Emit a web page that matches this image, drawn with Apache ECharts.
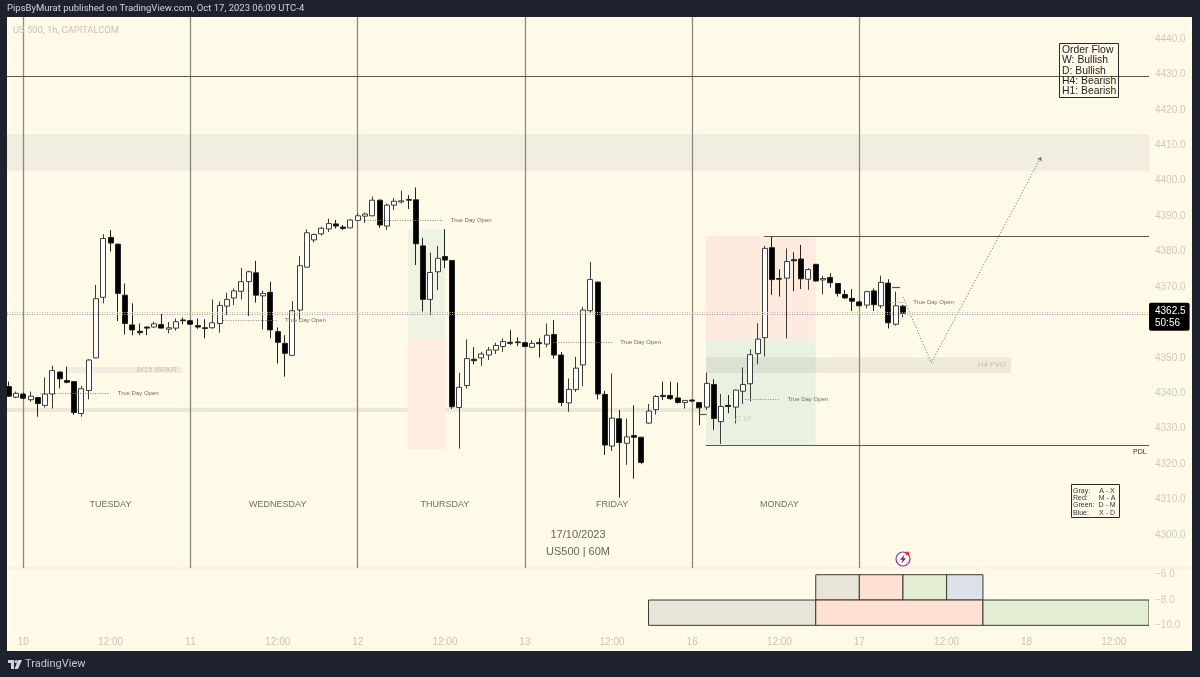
<!DOCTYPE html>
<html>
<head>
<meta charset="utf-8">
<style>
  html, body { margin: 0; padding: 0; background: #1e222d; }
  #chart { width: 1200px; height: 677px; }
</style>
<script src="https://cdn.jsdelivr.net/npm/echarts@6/dist/echarts.min.js"></script>
</head>
<body>
<div id="chart"></div>
<script>
// bars are [open, close, low, high], bar 0 is the 00:00 open of the 10th
const lastWeekBars = [
  [4341.9,4339.2,4339.0,4343.3],[4338.9,4340.0,4338.6,4340.5]
];
const tuesdayBars = [
  [4339.8,4338.6,4338.3,4340.2],[4338.2,4339.2,4337.6,4340.5],[4338.8,4337.1,4333.4,4339.0],[4336.6,4339.8,4336.0,4344.5],
  [4339.8,4346.4,4335.7,4347.8],[4346.0,4344.1,4341.4,4346.2],[4343.6,4343.1,4342.8,4347.5],[4343.3,4334.6,4333.9,4343.5],
  [4334.3,4341.3,4333.4,4342.1],[4340.8,4349.4,4338.3,4349.6],[4350.0,4366.7,4349.9,4370.6],[4367.1,4383.7,4365.4,4384.9],
  [4384.0,4382.4,4380.0,4386.1],[4382.1,4368.2,4360.4,4382.2],[4367.7,4359.7,4356.6,4371.0],[4359.3,4357.9,4356.4,4365.4],
  [4357.5,4357.1,4356.4,4359.7],[4358.7,4358.4,4356.4,4358.8],[4358.7,4359.6,4358.5,4360.2],[4359.4,4358.4,4358.3,4362.4],
  [4358.1,4358.5,4356.9,4360.1],[4358.4,4360.2,4357.7,4361.1],[4360.7,4360.5,4359.5,4361.4]
];
const wednesdayBars = [
  [4360.5,4359.5,4359.3,4360.7],[4359.1,4358.7,4358.2,4361.1],[4358.5,4358.3,4355.5,4360.9],[4358.5,4359.9,4358.2,4366.5],
  [4359.7,4364.8,4357.1,4365.9],[4364.6,4366.5,4362.1,4368.4],[4366.9,4368.9,4364.9,4369.6],[4368.8,4371.5,4366.5,4375.4],
  [4371.5,4374.3,4361.8,4374.6],[4374.0,4367.7,4365.6,4377.4],[4367.5,4368.2,4358.0,4369.0],[4368.5,4357.9,4355.5,4371.5],
  [4357.4,4354.4,4348.4,4358.6],[4354.1,4351.3,4344.7,4356.4],[4350.7,4363.3,4350.5,4366.0],[4363.5,4376.0,4360.7,4378.7],
  [4375.6,4385.3,4375.5,4386.3],[4383.3,4384.8,4382.6,4385.1],[4385.0,4386.6,4384.5,4387.0],[4386.4,4387.9,4385.5,4389.3],
  [4387.8,4387.2,4386.5,4388.9],[4386.9,4386.5,4386.1,4387.5],[4386.7,4388.9,4386.6,4389.1]
];
const thursdayBars = [
  [4388.8,4390.1,4388.7,4390.8],[4390.0,4390.6,4388.1,4391.0],[4390.1,4394.5,4390.0,4395.5],[4394.5,4387.5,4386.7,4394.7],
  [4387.2,4393.1,4386.1,4393.6],[4393.1,4394.2,4391.7,4395.1],[4394.0,4394.3,4393.6,4397.2],[4394.7,4394.5,4392.0,4395.9],
  [4394.6,4382.2,4376.2,4398.1],[4381.6,4366.5,4363.1,4383.9],[4366.5,4374.1,4362.0,4379.7],[4374.3,4378.1,4369.1,4381.6],
  [4378.6,4377.6,4375.3,4386.3],[4377.5,4336.2,4335.6,4377.6],[4336.0,4341.7,4324.4,4345.8],[4342.2,4349.8,4341.3,4355.2],
  [4349.6,4349.2,4348.2,4353.0],[4350.0,4351.1,4347.7,4351.7],[4350.8,4352.2,4349.4,4353.1],[4352.2,4353.5,4351.1,4354.3],
  [4353.2,4354.6,4351.7,4355.5],[4354.4,4354.1,4353.6,4357.8],[4354.5,4354.3,4353.3,4355.8]
];
const fridayBars = [
  [4354.3,4353.2,4353.1,4354.5],[4353.0,4354.1,4352.7,4355.0],[4354.3,4354.0,4350.1,4355.5],[4353.9,4356.4,4353.0,4359.7],
  [4356.6,4350.8,4349.8,4360.7],[4350.8,4337.4,4336.4,4351.7],[4337.3,4341.1,4334.8,4344.2],[4341.1,4347.1,4340.4,4350.3],
  [4348.0,4363.5,4342.0,4364.4],[4363.3,4372.1,4362.7,4377.1],[4371.4,4339.8,4338.3,4371.5],[4339.7,4325.4,4322.6,4340.7],
  [4325.1,4333.0,4323.7,4345.6],[4332.8,4326.1,4310.6,4335.3],[4325.9,4327.7,4319.8,4332.9],[4328.1,4327.6,4315.9,4336.6],
  [4327.6,4320.5,4320.0,4327.7],[4331.6,4335.0,4331.5,4337.0],[4335.4,4339.1,4334.0,4339.5],[4339.4,4339.1,4338.1,4343.3],
  [4339.4,4338.5,4338.1,4343.3],[4338.7,4337.4,4337.1,4343.0],[4337.4,4338.0,4335.7,4338.1]
];
const mondayBars = [
  [4338.1,4337.8,4337.6,4338.2],[4337.4,4335.9,4331.0,4337.5],[4336.1,4342.8,4335.3,4345.8],[4342.5,4332.9,4329.7,4344.0],
  [4332.0,4336.3,4325.7,4339.8],[4336.6,4336.3,4334.4,4339.5],[4336.1,4340.9,4331.5,4341.0],[4340.6,4342.5,4337.0,4347.3],
  [4342.7,4350.9,4337.7,4352.4],[4351.2,4355.3,4348.2,4359.8],[4355.7,4380.9,4350.4,4381.6],[4381.1,4372.1,4367.8,4384.2],
  [4372.4,4372.2,4367.3,4375.0],[4372.5,4377.2,4355.5,4380.9],[4377.7,4377.4,4368.8,4379.8],[4377.9,4372.3,4369.4,4381.9],
  [4372.2,4374.9,4369.2,4375.3],[4376.4,4371.7,4371.5,4376.5],[4372.0,4372.4,4367.9,4373.2],[4372.7,4371.2,4369.8,4373.9],
  [4371.0,4368.2,4367.3,4371.1],[4367.9,4366.9,4366.7,4369.2],[4366.8,4366.0,4363.2,4369.4]
];
const todayBars = [
  [4365.8,4364.7,4364.6,4366.2],[4364.9,4368.7,4364.0,4368.9],[4368.9,4365.0,4363.2,4369.6],[4364.7,4371.3,4364.0,4373.2],
  [4371.1,4359.9,4358.3,4372.2],[4359.5,4364.7,4359.1,4368.7],[4364.6,4362.6,4361.5,4364.9]
];
const firstBar = -2;

const barMin = -2.24;
const barMax = 154.84;

const tickBars = [0, 12, 23, 35, 46, 58, 69, 81, 92, 104, 115, 127, 138, 150];
const tickNames = ['10', '12:00', '11', '12:00', '12', '12:00', '13', '12:00', '16', '12:00', '17', '12:00', '18', '12:00'];
const priceTicks = [4300, 4310, 4320, 4330, 4340, 4350, 4360, 4370, 4380, 4390, 4400, 4410, 4420, 4430, 4440];
const rangeTicks = [-6, -8, -10];

const sessionBars = [0, 23, 46, 69, 92, 115];
const dayNames = [[12, 'TUESDAY'], [35, 'WEDNESDAY'], [58, 'THURSDAY'], [81, 'FRIDAY'], [104, 'MONDAY']];
const dayNamePrice = 4308.5;

// [bar from, bar to, price]
const levels = [
  [barMin, barMax, 4429.4],
  [101.9, barMax, 4384.3],
  [93.9, barMax, 4325.4],
  [93, 94, 4334.1],
  [119.5, 120.6, 4369.9]
];
const trueDayOpen = [
  [2.3, 11.9, 4339.9],
  [27.5, 34.9, 4360.7],
  [47, 57.7, 4388.9],
  [72.9, 81, 4354.5],
  [99.3, 104, 4338.3],
  [119.2, 121.3, 4365.8]
];
const lastPrice = 4362.5;

// [bar from, bar to, price top, price bottom, colour, label]
const zones = [
  [barMin, barMax, 4413.2, 4402.7, '#f1eee0', ''],
  [6, 21.8, 4347.4, 4345.7, '#f1eee1', 'M15 BRKR'],
  [barMin, 99.9, 4335.9, 4334.7, '#ebe7d9', ''],
  [52.9, 58, 4386.4, 4355.6, '#eff3e2', ''],
  [52.9, 58, 4355.6, 4324.3, '#fdecdf', ''],
  [93.9, 109, 4384.4, 4354.8, '#fdebdf', ''],
  [93.9, 109, 4354.8, 4325.3, '#e9f1e0', ''],
  [93.9, 135.9, 4350.2, 4345.7, 'rgba(170,170,160,0.2)', 'H4 FVG']
];

const projection = [[121, 4367.2], [124.9, 4348.6], [140, 4406.7]];

// [bar from, bar to, top, bottom, colour]
const rangeBoxes = [
  [109, 115, -6, -8, '#e8e5d8'],
  [115, 121, -6, -8, '#fee1d2'],
  [121, 127, -6, -8, '#e3edd3'],
  [127, 132, -6, -8, '#dde1e8'],
  [86, 109, -8, -10, '#e8e5d8'],
  [109, 132, -8, -10, '#fee1d2'],
  [132, 154.84, -8, -10, '#e3edd3']
];

const allBars = [].concat(lastWeekBars, tuesdayBars, wednesdayBars, thursdayBars, fridayBars, mondayBars, todayBars);
const sans = '"Liberation Sans", Arial, sans-serif';
const ui = 'Roboto, "Liberation Sans", sans-serif';

const chart = echarts.init(document.getElementById('chart'));

const option = {
  backgroundColor: '#1e222d',
  animation: false,
  grid: [
    { left: 7, right: 51, top: 17, height: 551 },
    { left: 7, right: 51, top: 568, height: 60 }
  ],
  xAxis: [
    { type: 'value', gridIndex: 0, min: barMin, max: barMax, show: false, splitLine: { show: false } },
    {
      type: 'value', gridIndex: 1, min: barMin, max: barMax,
      axisLine: { show: false }, axisTick: { show: false }, splitLine: { show: false },
      axisLabel: {
        customValues: tickBars,
        margin: 9,
        fontFamily: sans,
        fontSize: 10,
        color: (v) => (v === 92 ? '#8f8e82' : '#c6c4b7'),
        formatter: (v) => tickNames[tickBars.indexOf(v)]
      }
    }
  ],
  yAxis: [
    {
      type: 'value', gridIndex: 0, position: 'right', min: 4290.7, max: 4446.2, scale: true,
      axisLine: { show: false }, axisTick: { show: false }, splitLine: { show: false },
      axisLabel: {
        customValues: priceTicks, margin: 6, fontFamily: sans, fontSize: 10, color: '#cdcbbe',
        formatter: (v) => v.toFixed(1)
      }
    },
    {
      type: 'value', gridIndex: 1, position: 'right', min: -10.21, max: -5.47, scale: true,
      axisLine: { show: false }, axisTick: { show: false }, splitLine: { show: false },
      axisLabel: {
        customValues: rangeTicks, margin: 6, fontFamily: sans, fontSize: 10, color: '#cdcbbe',
        formatter: (v) => '\u2212' + Math.abs(v).toFixed(1)
      }
    }
  ],
  series: [
    {
      name: 'zones',
      type: 'line',
      data: [],
      silent: true,
      markArea: {
        silent: true,
        data: zones.map((z) => [
          {
            coord: [z[0], z[2]],
            itemStyle: { color: z[4] },
            label: {
              show: !!z[5], formatter: z[5], position: 'insideRight', distance: 5,
              fontFamily: sans, fontSize: 8, fontStyle: 'italic', color: '#c2c0b2'
            }
          },
          { coord: [z[1], z[3]] }
        ])
      },
      markLine: {
        silent: true,
        z: 1,
        symbol: 'none',
        label: { show: false },
        lineStyle: { color: '#8a897d', width: 1.3, type: 'solid' },
        data: sessionBars.map((b) => ({ xAxis: b }))
      }
    },
    {
      name: 'US 500',
      type: 'candlestick',
      barWidth: 5.5,
      z: 3,
      itemStyle: {
        color: '#ffffff',
        color0: '#000000',
        borderColor: '#3c3c38',
        borderColor0: '#22221e',
        borderWidth: 1
      },
      data: allBars.map((b, i) => [firstBar + i].concat(b))
    },
    {
      name: 'levels',
      type: 'line',
      data: [],
      silent: true,
      markLine: {
        silent: true,
        symbol: 'none',
        label: { show: false },
        data: [].concat(
          levels.map((l) => [
            { coord: [l[0], l[2]], lineStyle: { color: '#5a5948', width: 1.2, type: 'solid' } },
            { coord: [l[1], l[2]] }
          ]),
          trueDayOpen.map((l) => [
            {
              coord: [l[0], l[2]],
              lineStyle: { color: '#8a897d', width: 1, type: [1, 1.5] },
              label: {
                show: true, formatter: 'True Day Open', position: 'end', distance: 8,
                fontFamily: sans, fontSize: 6, color: '#6e6d62'
              }
            },
            { coord: [l[1], l[2]] }
          ]),
          [
            [
              { coord: [projection[0][0], projection[0][1]], lineStyle: { color: '#66655a', width: 1, type: [1, 2] } },
              { coord: [projection[1][0], projection[1][1]] }
            ],
            [
              { coord: [projection[1][0], projection[1][1]], lineStyle: { color: '#66655a', width: 1, type: [1, 2] } },
              { coord: [projection[2][0], projection[2][1]], symbol: 'arrow', symbolSize: 4 }
            ],
            [
              { coord: [barMin, lastPrice + 0.35], lineStyle: { color: '#dcbf95', width: 1, type: [1, 1.5] } },
              { coord: [barMax, lastPrice + 0.35] }
            ],
            [
              {
                coord: [barMin, lastPrice - 0.05],
                lineStyle: { color: '#9a95d4', width: 1, type: [1, 1.5] },
                label: {
                  show: true, position: 'end', distance: 0, offset: [0, 3],
                  formatter: lastPrice.toFixed(1) + '\n50:56',
                  backgroundColor: '#000000', color: '#ffffff', borderRadius: 2,
                  padding: [2, 4, 2, 6], lineHeight: 12, fontFamily: sans, fontSize: 10
                }
              },
              { coord: [barMax, lastPrice - 0.05] }
            ]
          ]
        )
      }
    },
    {
      name: 'days',
      type: 'scatter',
      symbolSize: 0,
      silent: true,
      data: dayNames.map((d) => ({ value: [d[0], dayNamePrice], name: d[1] })),
      label: {
        show: true, position: 'inside', formatter: '{b}',
        fontFamily: sans, fontSize: 9, color: '#4a4a44'
      }
    },
    {
      name: 'ranges',
      type: 'custom',
      xAxisIndex: 1,
      yAxisIndex: 1,
      silent: true,
      clip: true,
      data: rangeBoxes,
      encode: { x: [0, 1], y: [2, 3] },
      renderItem: (params, api) => {
        const a = api.coord([api.value(0), api.value(2)]);
        const b = api.coord([api.value(1), api.value(3)]);
        return {
          type: 'rect',
          shape: { x: a[0], y: a[1], width: b[0] - a[0], height: b[1] - a[1] },
          style: { fill: rangeBoxes[params.dataIndex][4], stroke: '#3a3a32', lineWidth: 1 }
        };
      }
    }
  ],
  graphic: [
    { type: 'rect', z: 0, silent: true, shape: { x: 7, y: 17, width: 1185, height: 634 }, style: { fill: '#fffae8' } },
    { type: 'line', z: 1, silent: true, shape: { x1: 7, y1: 568, x2: 1192, y2: 568 }, style: { stroke: '#efecdc', lineWidth: 1 } },
    { type: 'text', z: 20, silent: true, x: 7, y: 9, style: { text: 'PipsByMurat published on TradingView.com, Oct 17, 2023 06:09 UTC-4', fill: '#d1d4dc', font: '9.5px ' + ui, textVerticalAlign: 'middle' } },
    { type: 'text', z: 20, silent: true, x: 13, y: 31, style: { text: 'US 500, 1h, CAPITALCOM', fill: '#c6c4b6', font: '9.4px ' + ui, textVerticalAlign: 'middle' } },
    { type: 'text', z: 20, silent: true, x: 578, y: 535, style: { text: '17/10/2023', fill: '#66665c', font: '11px ' + sans, textAlign: 'center', textVerticalAlign: 'middle' } },
    { type: 'text', z: 20, silent: true, x: 578, y: 552, style: { text: 'US500 | 60M', fill: '#66665c', font: '11px ' + sans, textAlign: 'center', textVerticalAlign: 'middle' } },
    { type: 'text', z: 20, silent: true, x: 1133, y: 452, style: { text: 'PDL', fill: '#333333', font: '7px ' + sans, textVerticalAlign: 'middle' } },
    { type: 'text', z: 20, silent: true, x: 735, y: 419, style: { text: 'D VI', fill: '#cfcdbf', font: 'italic 8px ' + sans, textVerticalAlign: 'middle' } },
    // order flow box
    { type: 'rect', z: 21, silent: true, shape: { x: 1059.5, y: 43.5, width: 59, height: 54 }, style: { fill: 'transparent', stroke: '#2a2a2a', lineWidth: 1 } },
    { type: 'text', z: 22, silent: true, x: 1062, y: 45, style: { text: 'Order Flow\nW: Bullish\nD: Bullish\nH4: Bearish\nH1: Bearish', fill: '#222222', font: '10.4px ' + sans, lineHeight: 10.3 } },
    // colour legend
    { type: 'rect', z: 21, silent: true, shape: { x: 1071.5, y: 484.5, width: 48, height: 33 }, style: { fill: 'transparent', stroke: '#2a2a2a', lineWidth: 1 } },
    { type: 'text', z: 22, silent: true, x: 1073, y: 487, style: { text: 'Gray:\nRed:\nGreen:\nBlue:', fill: '#333333', font: '7px ' + sans, lineHeight: 7.4 } },
    { type: 'text', z: 22, silent: true, x: 1107, y: 487, style: { text: 'A - X\nM - A\nD - M\nX - D', fill: '#333333', font: '7px ' + sans, lineHeight: 7.4, textAlign: 'center' } },
    // alert icon
    { type: 'circle', z: 22, silent: true, shape: { cx: 903, cy: 559, r: 7 }, style: { fill: 'transparent', stroke: '#9c27b0', lineWidth: 1.2 } },
    { type: 'polygon', z: 22, silent: true, shape: { points: [[904.5, 554.5], [900, 559.8], [902.7, 559.8], [901.5, 563.5], [906, 558.2], [903.3, 558.2]] }, style: { fill: '#5e2a9e' } },
    { type: 'circle', z: 23, silent: true, shape: { cx: 907.5, cy: 553.5, r: 2 }, style: { fill: '#e53935' } },
    // footer logo
    { type: 'polygon', z: 22, silent: true, shape: { points: [[8, 660], [14, 660], [14, 669], [11, 669], [11, 663], [8, 663]] }, style: { fill: '#d1d4dc' } },
    { type: 'circle', z: 22, silent: true, shape: { cx: 16, cy: 661.5, r: 1.5 }, style: { fill: '#d1d4dc' } },
    { type: 'polygon', z: 22, silent: true, shape: { points: [[18, 660], [22, 660], [18, 669], [14.5, 669]] }, style: { fill: '#d1d4dc' } },
    { type: 'text', z: 22, silent: true, x: 25, y: 664.5, style: { text: 'TradingView', fill: '#c3c6ce', font: '11px ' + ui, textVerticalAlign: 'middle' } }
  ]
};

chart.setOption(option);
</script>
</body>
</html>
